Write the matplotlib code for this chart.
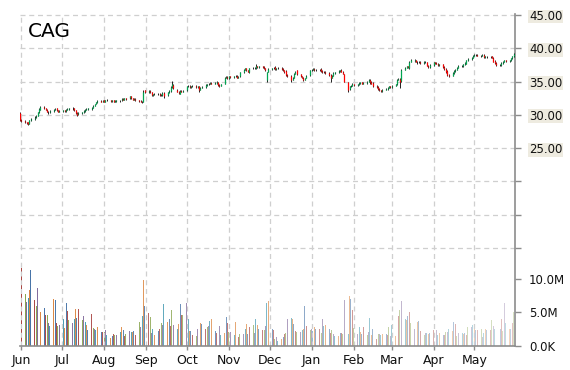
import matplotlib
matplotlib.use("Agg")
import matplotlib.pyplot as plt
import matplotlib.dates as mdates
from matplotlib.colors import to_rgba
from matplotlib.ticker import FixedLocator, FuncFormatter
import pandas as pd

# daily OHLC + volume (millions), one row per week, 31 May 2012 - 31 May 2013
opens = [
    30.3, 29.3,
    29.1, 28.9, 28.9, 28.7, 29.2,
    29.4, 29.7, 29.9, 30.4, 30.8,
    31.2, 31.0, 30.8, 30.5, 30.4,
    30.6, 30.8, 31.0, 30.7, 30.5,
    30.6, 30.7, 30.6, 30.8, 30.9,
    31.1, 31.0, 30.7, 30.3, 30.1,
    30.3, 30.4, 30.6, 30.8, 30.9,
    30.9, 31.1, 31.4, 31.7, 31.9,
    32.1, 32.0, 32.2, 32.0, 32.3,
    32.2, 32.1, 32.2, 32.0, 32.1,
    32.2, 32.2, 32.4, 32.3, 32.5,
    32.5, 32.8, 32.5, 32.3, 32.4,
    32.2, 32.1, 32.0, 32.0, 33.7,
    33.4, 33.6, 33.4, 33.0, 33.1,
    33.2, 33.2, 33.0, 33.0, 33.3,
    33.0, 33.4, 33.6, 34.2, 34.5,
    33.8, 33.5, 33.2, 33.6, 33.5,
    33.7, 34.3, 34.4, 34.2, 34.3,
    34.4, 34.2, 34.3, 33.8, 34.1,
    34.2, 34.5, 34.6, 34.7, 34.8,
    34.7, 34.8, 34.9, 34.5, 34.4,
    34.7, 35.6, 35.7, 35.5, 35.8,
    35.7, 35.8, 35.9, 35.6, 35.8,
    36.4, 36.8, 37.0, 36.7, 36.4,
    37.0, 37.1, 37.0, 37.3, 37.2,
    37.3, 37.2, 37.0, 35.2, 36.5,
    36.9, 37.0, 37.2, 36.9, 37.0,
    37.1, 36.9, 36.7, 36.6, 36.0,
    35.9, 35.3, 35.6, 36.2, 36.7,
    36.1, 35.8, 35.6, 35.3, 35.6,
    36.0, 36.7, 36.8, 36.9, 36.7,
    36.8, 36.9, 36.6, 36.4, 36.5,
    36.3, 36.0, 35.6, 35.9, 36.3,
    36.4, 36.6, 36.8, 36.5, 36.1,
    34.9, 33.9, 34.3, 34.4, 34.6,
    34.5, 34.6, 34.8, 34.9, 34.7,
    34.8, 35.0, 35.3, 35.0, 34.8,
    34.4, 34.2, 33.9, 33.7, 33.6,
    33.8, 33.9, 34.1, 34.3, 34.2,
    34.4, 34.6, 35.3, 35.4, 35.1,
    36.8, 37.1, 37.3, 37.0, 38.0,
    38.1, 38.2, 38.0, 37.9, 38.0,
    37.8, 38.0, 37.9, 37.4, 37.2,
    37.5, 37.9, 37.8, 37.7, 37.5,
    37.6, 37.2, 36.9, 36.6, 36.0,
    35.9, 36.3, 36.6, 36.8, 37.1,
    37.4, 37.3, 37.6, 37.7, 38.2,
    38.4, 38.6, 38.9, 39.0, 39.0,
    38.9, 38.9, 39.0, 38.7, 38.8,
    38.8, 38.8, 38.6, 38.1, 37.8,
    37.5, 37.5, 37.8, 38.0, 38.2,
    38.1, 38.2, 38.5, 38.8, 39.2,
]
highs = [
    30.4, 29.4,
    29.2, 29.0, 29.0, 29.3, 29.5,
    29.8, 30.0, 30.5, 31.0, 31.4,
    31.3, 31.1, 30.9, 30.6, 30.7,
    30.9, 31.0, 31.1, 30.8, 30.8,
    30.8, 30.8, 30.9, 31.0, 31.1,
    31.2, 31.1, 30.8, 30.4, 30.4,
    30.5, 30.7, 30.9, 31.0, 31.1,
    31.2, 31.5, 31.7, 32.0, 32.2,
    32.2, 32.2, 32.3, 32.3, 32.4,
    32.3, 32.3, 32.3, 32.2, 32.3,
    32.3, 32.5, 32.5, 32.6, 32.6,
    32.9, 32.9, 32.6, 32.5, 32.5,
    32.3, 32.2, 32.1, 33.7, 33.8,
    33.7, 33.7, 33.5, 33.2, 33.3,
    33.3, 33.3, 33.1, 33.4, 33.4,
    33.5, 33.7, 34.3, 35.1, 34.6,
    33.9, 33.6, 33.7, 33.7, 33.7,
    34.4, 34.5, 34.5, 34.4, 34.5,
    34.5, 34.4, 34.4, 34.2, 34.3,
    34.6, 34.7, 34.8, 34.9, 34.9,
    34.9, 35.1, 35.0, 34.6, 34.7,
    35.7, 35.9, 35.8, 35.9, 35.9,
    35.9, 36.0, 36.0, 35.8, 36.5,
    36.9, 37.1, 37.1, 36.8, 37.1,
    37.2, 37.2, 37.6, 37.4, 37.4,
    37.4, 37.3, 37.1, 36.5, 37.0,
    37.1, 37.2, 37.3, 37.1, 37.2,
    37.2, 37.0, 36.8, 36.7, 36.1,
    36.0, 35.7, 36.3, 36.6, 36.8,
    36.2, 35.9, 35.7, 35.6, 36.0,
    36.8, 36.9, 37.0, 37.0, 36.9,
    36.9, 37.0, 36.7, 36.6, 36.6,
    36.4, 36.1, 36.0, 36.4, 36.5,
    36.7, 36.8, 36.9, 36.6, 36.2,
    35.0, 34.4, 34.5, 34.8, 34.7,
    34.7, 34.9, 35.0, 35.0, 34.9,
    35.1, 35.4, 35.4, 35.1, 34.9,
    34.5, 34.3, 34.0, 33.8, 33.9,
    34.0, 34.2, 34.4, 34.4, 34.5,
    34.7, 35.4, 35.6, 35.5, 36.9,
    37.2, 37.4, 37.4, 38.1, 38.4,
    38.4, 38.3, 38.1, 38.1, 38.1,
    38.1, 38.1, 38.0, 37.5, 37.6,
    38.0, 38.0, 37.9, 37.8, 37.7,
    37.7, 37.3, 37.0, 36.7, 36.1,
    36.4, 36.7, 36.9, 37.2, 37.5,
    37.5, 37.7, 37.9, 38.3, 38.5,
    38.7, 39.0, 39.1, 39.2, 39.1,
    39.0, 39.1, 39.1, 38.9, 38.9,
    38.9, 38.9, 38.7, 38.2, 37.9,
    37.7, 37.9, 38.1, 38.3, 38.3,
    38.3, 38.6, 38.9, 39.3, 39.9,
]
lows = [
    29.1, 28.9,
    28.8, 28.6, 28.5, 28.6, 29.1,
    29.3, 29.5, 29.8, 30.3, 30.7,
    30.9, 30.7, 30.4, 30.2, 30.3,
    30.5, 30.7, 30.6, 30.4, 30.4,
    30.5, 30.5, 30.5, 30.7, 30.8,
    30.8, 30.6, 30.2, 29.8, 30.0,
    30.2, 30.3, 30.5, 30.7, 30.8,
    30.8, 31.0, 31.3, 31.6, 31.8,
    31.9, 31.9, 31.9, 31.9, 32.1,
    32.0, 32.0, 31.9, 31.9, 32.0,
    32.0, 32.1, 32.2, 32.2, 32.3,
    32.4, 32.4, 32.2, 32.2, 32.1,
    31.9, 31.9, 31.8, 31.9, 33.3,
    33.3, 33.3, 32.9, 32.9, 33.0,
    33.0, 32.9, 32.8, 32.9, 32.5,
    32.9, 33.3, 33.5, 34.1, 33.9,
    33.4, 33.1, 33.1, 33.4, 33.4,
    33.6, 34.2, 34.1, 34.1, 34.2,
    34.1, 34.1, 33.4, 33.7, 34.0,
    34.1, 34.4, 34.5, 34.6, 34.6,
    34.6, 34.7, 34.3, 34.2, 34.3,
    34.6, 35.5, 35.4, 35.4, 35.6,
    35.6, 35.7, 35.5, 35.5, 35.7,
    36.3, 36.7, 36.6, 36.4, 36.3,
    36.9, 36.9, 36.9, 37.1, 37.1,
    37.1, 36.9, 36.6, 35.0, 36.4,
    36.8, 36.9, 36.8, 36.8, 36.9,
    36.8, 36.6, 36.3, 35.9, 35.7,
    34.9, 35.2, 35.5, 36.1, 36.0,
    35.7, 35.5, 35.1, 35.2, 35.5,
    35.9, 36.6, 36.7, 36.6, 36.6,
    36.6, 36.5, 36.3, 36.3, 36.2,
    35.9, 35.0, 35.5, 35.8, 36.2,
    36.3, 36.5, 36.4, 36.1, 34.9,
    33.5, 33.8, 34.2, 34.3, 34.4,
    34.4, 34.5, 34.7, 34.6, 34.6,
    34.7, 34.9, 34.6, 34.6, 34.2,
    34.1, 33.8, 33.6, 33.4, 33.5,
    33.7, 33.8, 34.0, 34.1, 34.1,
    34.3, 34.5, 35.2, 34.0, 35.0,
    36.7, 37.0, 37.0, 36.9, 37.9,
    38.0, 37.9, 37.7, 37.8, 37.6,
    37.7, 37.8, 37.3, 37.0, 37.1,
    37.4, 37.7, 37.6, 37.4, 37.4,
    37.1, 36.8, 36.3, 35.9, 35.7,
    35.8, 36.2, 36.5, 36.7, 37.0,
    37.2, 37.2, 37.5, 37.6, 38.1,
    38.3, 38.5, 38.8, 38.9, 38.8,
    38.7, 38.8, 38.6, 38.6, 38.6,
    38.6, 38.5, 37.9, 37.7, 37.4,
    37.3, 37.4, 37.7, 37.9, 38.0,
    38.0, 38.1, 38.4, 38.7, 39.1,
]
closes = [
    29.3, 29.1,
    28.9, 28.8, 28.7, 29.2, 29.4,
    29.6, 29.9, 30.4, 30.9, 31.2,
    31.0, 30.8, 30.5, 30.4, 30.6,
    30.8, 30.9, 30.7, 30.5, 30.6,
    30.7, 30.6, 30.8, 30.9, 31.0,
    31.0, 30.7, 30.3, 30.0, 30.3,
    30.4, 30.6, 30.8, 30.9, 31.0,
    31.1, 31.4, 31.6, 31.9, 32.1,
    32.0, 32.1, 32.0, 32.2, 32.2,
    32.1, 32.2, 32.0, 32.1, 32.2,
    32.2, 32.4, 32.3, 32.5, 32.4,
    32.8, 32.5, 32.3, 32.4, 32.2,
    32.1, 32.0, 32.0, 33.5, 33.5,
    33.6, 33.4, 33.0, 33.1, 33.2,
    33.2, 33.0, 33.0, 33.3, 32.9,
    33.4, 33.6, 34.2, 34.6, 34.0,
    33.5, 33.3, 33.6, 33.5, 33.6,
    34.3, 34.4, 34.2, 34.3, 34.4,
    34.2, 34.3, 33.8, 34.1, 34.2,
    34.5, 34.6, 34.7, 34.8, 34.7,
    34.8, 34.9, 34.5, 34.4, 34.6,
    35.6, 35.7, 35.5, 35.8, 35.7,
    35.8, 35.9, 35.6, 35.7, 36.4,
    36.8, 37.0, 36.7, 36.5, 37.0,
    37.1, 37.0, 37.3, 37.2, 37.3,
    37.2, 37.0, 36.8, 36.4, 36.9,
    37.0, 37.1, 36.9, 37.0, 37.1,
    36.9, 36.7, 36.4, 36.0, 35.9,
    35.3, 35.6, 36.2, 36.5, 36.1,
    35.8, 35.6, 35.3, 35.5, 35.9,
    36.7, 36.8, 36.9, 36.7, 36.8,
    36.8, 36.6, 36.4, 36.5, 36.3,
    36.0, 35.6, 35.9, 36.3, 36.4,
    36.6, 36.7, 36.5, 36.2, 35.0,
    33.8, 34.3, 34.4, 34.6, 34.5,
    34.6, 34.8, 34.9, 34.7, 34.8,
    35.0, 35.3, 35.0, 34.7, 34.4,
    34.2, 33.9, 33.7, 33.6, 33.8,
    33.9, 34.1, 34.3, 34.2, 34.4,
    34.6, 35.3, 35.4, 35.0, 36.8,
    37.1, 37.3, 37.2, 38.0, 38.2,
    38.2, 38.0, 37.9, 38.0, 37.8,
    38.0, 37.9, 37.4, 37.2, 37.5,
    37.9, 37.8, 37.7, 37.5, 37.6,
    37.2, 36.9, 36.4, 36.0, 35.9,
    36.3, 36.6, 36.8, 37.1, 37.4,
    37.3, 37.6, 37.8, 38.2, 38.4,
    38.6, 38.9, 39.0, 39.0, 38.9,
    38.9, 39.0, 38.7, 38.8, 38.8,
    38.8, 38.6, 38.0, 37.8, 37.5,
    37.5, 37.8, 38.0, 38.2, 38.1,
    38.2, 38.5, 38.8, 39.2, 39.5,
]
volume_m = [
    11.7, 11.7,
    7.8, 6.6, 7.2, 8.4, 11.4,
    6.9, 5.9, 8.6, 6.9, 5.0,
    5.7, 4.6, 4.6, 3.4, 3.0,
    7.0, 6.9, 3.4, 3.0, 3.1,
    4.1, 2.7, 6.4, 5.2, 3.9,
    3.4, 4.1, 5.5, 4.2, 5.5,
    3.9, 4.5, 3.6, 3.1, 2.4,
    4.8, 2.7, 2.6, 2.4, 2.9,
    2.1, 2.1, 2.1, 2.4, 1.7,
    1.2, 1.5, 1.8, 1.7, 1.6,
    2.1, 2.8, 2.4, 1.5, 1.8,
    2.2, 2.1, 2.1, 2.2, 1.6,
    3.6, 2.9, 4.5, 9.9, 6.0,
    4.9, 4.4, 1.9, 2.5, 1.6,
    2.2, 2.6, 3.5, 3.1, 6.2,
    3.6, 4.0, 3.0, 5.4, 3.1,
    2.5, 3.3, 6.2, 4.6, 4.6,
    6.4, 4.0, 2.2, 2.2, 1.6,
    1.5, 2.5, 4.1, 3.4, 3.3,
    2.5, 2.9, 3.0, 3.7, 4.1,
    2.2, 1.9, 1.9, 3.0, 1.6,
    1.9, 4.4, 3.4, 2.1, 2.1,
    1.7, 3.6, 1.5, 1.3, 1.8,
    1.8, 2.6, 3.3, 1.8, 2.8,
    3.1, 2.0, 4.0, 3.1, 2.6,
    2.4, 2.4, 3.0, 6.4, 6.7,
    2.5, 2.4, 1.1, 1.4, 0.7,
    1.1, 1.3, 1.8, 2.0, 4.0,
    4.2, 4.0, 3.3, 2.3, 2.1,
    2.1, 2.4, 2.6, 6.0, 3.0,
    2.4, 2.6, 2.3, 2.9, 2.5,
    2.5, 2.0, 4.0, 3.0, 3.1,
    2.5, 1.9, 2.4, 1.8, 1.5,
    1.5, 2.0, 1.9, 1.8, 6.9,
    1.8, 7.4, 7.0, 5.3, 2.7,
    1.8, 2.8, 2.1, 1.8, 2.8,
    1.6, 2.1, 4.2, 1.6, 2.5,
    1.1, 1.8, 1.8, 1.7, 1.8,
    1.8, 1.6, 2.9, 1.5, 3.1,
    1.5, 1.5, 4.5, 5.4, 6.7,
    4.0, 3.9, 4.5, 5.1, 3.5,
    2.6, 2.2, 3.6, 3.8, 2.2,
    1.6, 1.9, 2.0, 1.8, 1.9,
    2.4, 2.4, 2.4, 1.6, 1.9,
    1.6, 1.6, 2.1, 2.1, 2.5,
    2.3, 3.6, 3.3, 1.5, 1.9,
    1.9, 1.8, 1.9, 1.6, 2.8,
    2.8, 3.1, 2.9, 2.4, 2.4,
    2.5, 1.4, 1.9, 2.5, 2.4,
    2.4, 3.9, 3.0, 2.5, 2.5,
    2.6, 4.0, 2.3, 6.4, 3.4,
    2.5, 2.6, 3.4, 5.1, 3.0,
]
price_ticks = [10, 15, 20, 25, 30, 35, 40, 45]
volume_ticks = [0, 5, 10]
ticker = "CAG"

palette = ["#4572A7", "#AA4643", "#89A54E", "#80699B", "#3D96AE", "#DB843D"]
up_color = "#00a651"
down_color = "#ff0000"

dates = pd.bdate_range("2012-05-31", "2013-05-31")
n = min(len(dates), len(closes), len(opens), len(highs), len(lows), len(volume_m))
dates = dates[:n]
x = mdates.date2num(dates.to_pydatetime())

fig = plt.figure(figsize=(5.7, 3.7), dpi=100)
ax = fig.add_axes([20 / 570, 24 / 370, 495 / 570, 332 / 370])
ax2 = ax.twinx()

# volume bars, colours cycling and fading out over time
bar_colors = [to_rgba(palette[i % len(palette)], 1 - 0.68 * i / (n - 1)) for i in range(n)]
ax2.bar(x, volume_m[:n], width=0.7, color=bar_colors, linewidth=0)
ax2.set_ylim(0, 49.55)

# candles
body_lo = [min(o, c) for o, c in zip(opens[:n], closes[:n])]
body_hi = [max(o, c) for o, c in zip(opens[:n], closes[:n])]
body_col = [up_color if c >= o else down_color for o, c in zip(opens[:n], closes[:n])]
ax.vlines(x, lows[:n], highs[:n], color="black", linewidth=0.6, zorder=3)
ax.vlines(x, body_lo, body_hi, colors=body_col, linewidth=0.9, zorder=4)
ax.set_ylim(-4.7, 45.15)
ax.set_xlim(x[0], x[-1])

# candles above the volume axes
ax.set_zorder(ax2.get_zorder() + 1)
ax.patch.set_visible(False)

grid_kw = dict(color="#cfcfcf", linestyle=(0, (4, 3)), linewidth=0.9)
ax.yaxis.set_major_locator(FixedLocator(price_ticks))
ax.yaxis.set_major_formatter(FuncFormatter(lambda v, p: f"{v:.2f}" if v >= 25 else ""))
ax.xaxis.set_major_locator(mdates.MonthLocator())
ax.xaxis.set_major_formatter(mdates.DateFormatter("%b"))
ax.grid(True, **grid_kw)
ax.set_axisbelow(True)
ax.yaxis.tick_right()

ax2.yaxis.set_major_locator(FixedLocator(volume_ticks))
ax2.yaxis.set_major_formatter(FuncFormatter(lambda v, p: "0.0K" if v == 0 else f"{v:.1f}M"))

for s in ["left", "top"]:
    ax.spines[s].set_visible(False)
for s in ["right", "bottom"]:
    ax.spines[s].set_color("#8c8c8c")
    ax.spines[s].set_linewidth(1.2)
for s in ax2.spines.values():
    s.set_visible(False)

ax.tick_params(axis="y", which="both", right=True, left=False, length=4, width=1,
               color="#8c8c8c", labelsize=8.5, labelcolor="#111111", pad=6)
ax.tick_params(axis="x", length=3, width=1, color="#8c8c8c", labelsize=9,
               labelcolor="#111111", pad=3)
ax2.tick_params(axis="y", length=4, width=1, color="#8c8c8c", labelsize=8.5,
                labelcolor="#111111", pad=6)

for lbl in ax.get_yticklabels(which="major"):
    lbl.set_bbox(dict(facecolor="#eeebe0", edgecolor="none", pad=0.3))

ax.text(0.016, 0.975, ticker, transform=ax.transAxes, fontsize=14.5,
        ha="left", va="top", color="black")

fig.savefig("out.png", dpi=100)
